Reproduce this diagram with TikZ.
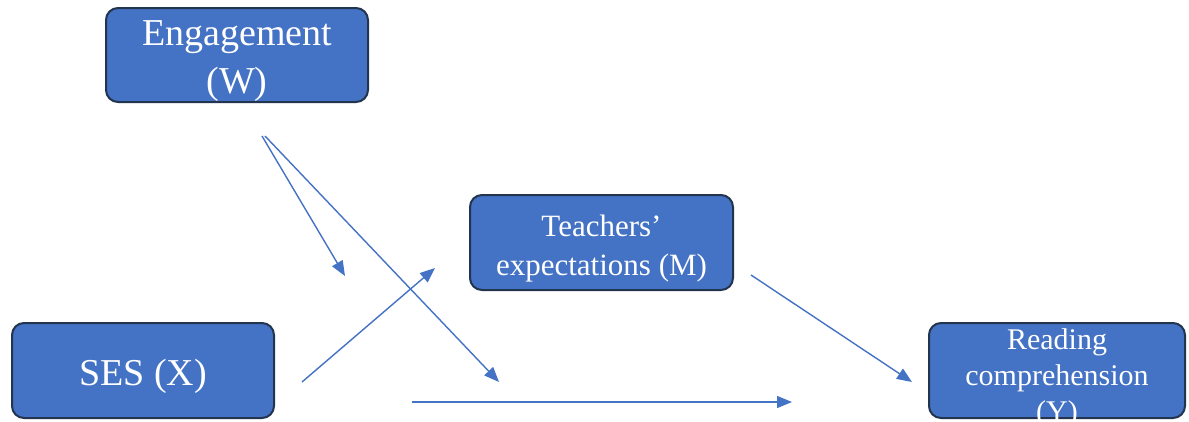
\documentclass[tikz,border=0pt]{standalone}
\usepackage{fontspec}
\setmainfont{Liberation Serif}
\usetikzlibrary{arrows.meta}
\definecolor{boxfill}{HTML}{4472C4}
\definecolor{boxline}{HTML}{23344F}
\definecolor{arrowc}{HTML}{4472C4}
\tikzset{
  varbox/.style={draw=boxline, fill=boxfill, line width=2pt, rounded corners=12pt, inner sep=0pt},
  vartext/.style={text=white, align=center, inner sep=0pt},
  path arrow/.style={draw=arrowc, line width=1.4pt, -{Triangle[length=15pt,width=12pt]}}
}
\begin{document}
\begin{tikzpicture}[x=1pt,y=-1pt]
\useasboundingbox (0,0) rectangle (1189,421);
% boxes
\node[varbox, minimum width=262pt, minimum height=94pt] (W) at (237,55) {};
\node[varbox, minimum width=263pt, minimum height=95pt] (M) at (601.5,242.5) {};
\node[varbox, minimum width=262pt, minimum height=95pt] (X) at (143,370.5) {};
\node[varbox, minimum width=256pt, minimum height=95pt] (Y) at (1057,370.5) {};
% texts
\node[vartext, font=\fontsize{38}{48}\selectfont] (Wt) at ([yshift=-6pt]W.center) {Engagement\\(W)};
\node[vartext, font=\fontsize{31}{39}\selectfont] (Mt) at ([yshift=-6pt]M.center) {Teachers’\\expectations (M)};
\node[vartext, font=\fontsize{38}{46}\selectfont] (Xt) at ([yshift=-6pt]X.center) {SES (X)};
\node[vartext, font=\fontsize{30}{36}\selectfont] (Yt) at ([yshift=-8pt]Y.center) {Reading\\comprehension\\(Y)};
% arrow end points
\coordinate (w1) at (262,136);
\coordinate (w2) at (265,136);
\coordinate (t1) at (345,276);
\coordinate (t2) at (499,382);
\coordinate (x1) at (302,382);
\coordinate (t3) at (435,268);
\coordinate (x2) at (412,402);
\coordinate (t4) at (792,402);
\coordinate (m1) at (751,275);
\coordinate (t5) at (912,382);
% arrows
\draw[path arrow] (w1) -- (t1);
\draw[path arrow] (w2) -- (t2);
\draw[path arrow] (x1) -- (t3);
\draw[path arrow] (x2) -- (t4);
\draw[path arrow] (m1) -- (t5);
\end{tikzpicture}
\end{document}
